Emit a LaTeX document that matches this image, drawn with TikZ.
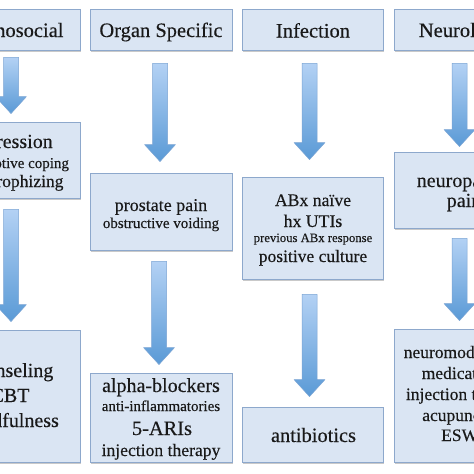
\documentclass[tikz,border=0pt]{standalone}
\usepackage{fontspec}
\setmainfont[FakeBold=0.25]{Liberation Serif}
\usetikzlibrary{shadows,fit,calc}
\definecolor{boxfill}{HTML}{DAE5F3}
\definecolor{boxline}{HTML}{8DA8CC}
\definecolor{arrtop}{HTML}{B3D1F4}
\definecolor{arrbot}{HTML}{5A9AD6}
\definecolor{arrline}{HTML}{7BA4D4}
\newcommand{\fsz}[1]{\fontsize{#1}{#1}\selectfont}
% block arrow from box #1 to box #2, x shift #3, top gap #4, bottom gap #5
\newcommand{\blockarrow}[5]{%
  \shadedraw[blockarr] let \p1=(#1.south), \p2=(#2.north) in
    ({\x1+(#3pt)-7.5pt},{\y1-#4pt}) -- ({\x1+(#3pt)+7.5pt},{\y1-#4pt})
    -- ({\x1+(#3pt)+7.5pt},{\y2+#5pt+17pt}) -- ({\x1+(#3pt)+15.5pt},{\y2+#5pt+17pt})
    -- ({\x1+(#3pt)},{\y2+#5pt}) -- ({\x1+(#3pt)-15.5pt},{\y2+#5pt+17pt})
    -- ({\x1+(#3pt)-7.5pt},{\y2+#5pt+17pt}) -- cycle;}
\begin{document}
\begin{tikzpicture}[x=1pt,y=-1pt,
  box/.style={draw=boxline, fill=boxfill, line width=0.9pt, inner sep=0pt,
    drop shadow={shadow xshift=1.2pt, shadow yshift=-1.8pt, opacity=0.35, fill=black!60}},
  txt/.style={anchor=base, inner sep=0pt, text=black!90},
  blockarr/.style={top color=arrtop, bottom color=arrbot, draw=arrline, line width=0.5pt, line join=round}]
\useasboundingbox (0,0) rectangle (474,474);
\clip (0,0) rectangle (474,474);
\fill[white] (0,0) rectangle (474,474);

% headers
\node[box, fit={(-60,9) (80,50)}] (h1) {};
\node[box, fit={(90,9) (232,50)}] (h2) {};
\node[box, fit={(242,9) (383,50)}] (h3) {};
\node[box, fit={(394,9) (536,50)}] (h4) {};
% second row
\node[box, fit={(-60,122) (80,198)}] (b1) {};
\node[box, fit={(90,173) (232,250)}] (b2) {};
\node[box, fit={(242,177) (383,279)}] (b3) {};
\node[box, fit={(394,152) (536,228)}] (b4) {};
% third row
\node[box, fit={(-60,330) (80,462)}] (c1) {};
\node[box, fit={(90,373) (232,462)}] (c2) {};
\node[box, fit={(242,407) (383,462)}] (c3) {};
\node[box, fit={(394,329) (536,462)}] (c4) {};

% arrows
\blockarrow{h1}{b1}{1}{7}{8}
\blockarrow{b1}{c1}{1}{11}{8}
\blockarrow{h2}{b2}{-1}{13}{11}
\blockarrow{b2}{c2}{-2}{11}{8}
\blockarrow{h3}{b3}{-3}{13}{17}
\blockarrow{b3}{c3}{-3}{15}{10}
\blockarrow{h4}{b4}{-5.5}{13}{5}
\blockarrow{b4}{c4}{-5.5}{10}{8}

% header texts
\node[txt, font=\fsz{20.5}] (th1) at (10,37) {Psychosocial};
\node[txt, font=\fsz{20.5}] (th2) at (161,37) {Organ Specific};
\node[txt, font=\fsz{20.5}] (th3) at (313,37.5) {Infection};
\node[txt, font=\fsz{20.5}] (th4) at (465,37) {Neurologic};

% second row texts
\node[txt, font=\fsz{20}] (tb11) at (10,148) {depression};
\node[txt, font=\fsz{15}] (tb12) at (10,168) {maladaptive coping};
\node[txt, font=\fsz{17.5}] (tb13) at (10,187) {catastrophizing};

\node[txt, font=\fsz{18}] (tb21) at (161,211) {prostate pain};
\node[txt, font=\fsz{15}] (tb22) at (161,228) {obstructive voiding};

\node[txt, font=\fsz{17.7}] (tb31) at (313,206) {ABx naïve};
\node[txt, font=\fsz{17.7}] (tb32) at (313,227) {hx UTIs};
\node[txt, font=\fsz{12.7}] (tb33) at (313,242) {previous ABx response};
\node[txt, font=\fsz{17.5}] (tb34) at (313,262) {positive culture};

\node[txt, font=\fsz{20}] (tb41) at (464,187) {neuropathic};
\node[txt, font=\fsz{20}] (tb42) at (464,207) {pain};

% third row texts
\node[txt, font=\fsz{20}] (tc11) at (10,377) {counseling};
\node[txt, font=\fsz{20}] (tc12) at (10,402) {CBT};
\node[txt, font=\fsz{20}] (tc13) at (10,427) {mindfulness};

\node[txt, font=\fsz{20}] (tc21) at (161,392) {alpha-blockers};
\node[txt, font=\fsz{15}] (tc22) at (161,411) {anti-inflammatories};
\node[txt, font=\fsz{20.4}] (tc23) at (162,435) {5-ARIs};
\node[txt, font=\fsz{17.6}] (tc24) at (161,456) {injection therapy};

\node[txt, font=\fsz{20.4}] (tc31) at (313.5,442) {antibiotics};

\node[txt, font=\fsz{17.5}] (tc41) at (464,358) {neuromodulatory};
\node[txt, font=\fsz{17.5}] (tc42) at (464,379) {medications};
\node[txt, font=\fsz{17.5}] (tc43) at (465,400) {injection therapy};
\node[txt, font=\fsz{17.5}] (tc44) at (465,421) {acupuncture};
\node[txt, font=\fsz{17.5}] (tc45) at (465,441) {ESWT};
\end{tikzpicture}
\end{document}
